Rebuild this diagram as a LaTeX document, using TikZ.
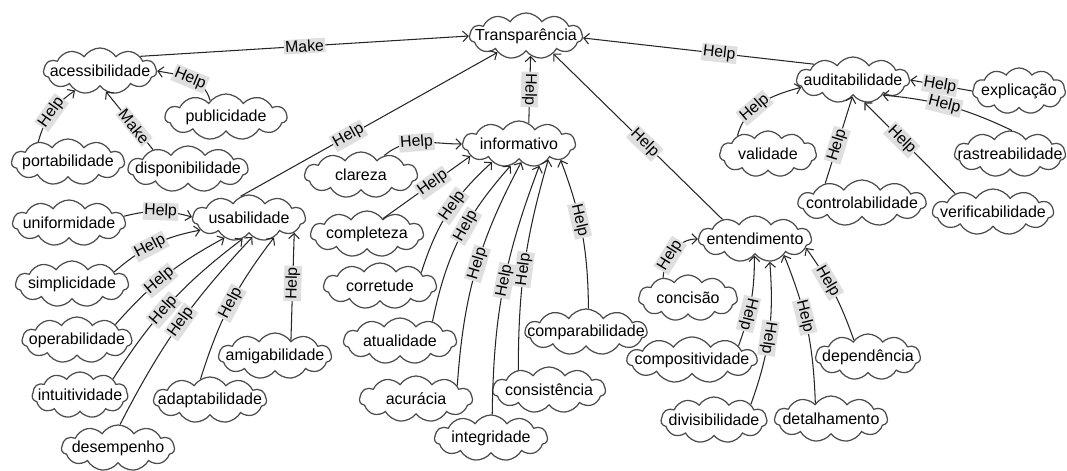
\documentclass[tikz,border=0pt]{standalone}
\usepackage{fontspec}
\setmainfont{Liberation Sans}
\usetikzlibrary{shapes.symbols,arrows.meta}

\tikzset{
  concept/.style={cloud, cloud puffs=11, cloud puff arc=115, cloud ignores aspect,
    draw=black!70, line width=0.7pt, fill=white, inner sep=0pt,
    minimum width=2.26cm, minimum height=0.92cm,
    font=\fontsize{9.1}{11}\selectfont,
    execute at begin node={\hbox to 0pt\bgroup\hss},
    execute at end node={\hss\egroup}},
  link/.style={draw=black!85, line width=0.6pt, -{Straight Barb[length=3pt,width=6pt]}},
  lab/.style={fill=gray!25, inner sep=0.8pt, sloped, font=\fontsize{9}{10}\selectfont},
}

\begin{document}
\begin{tikzpicture}
\useasboundingbox (0,0) rectangle (21.34,9.42);

\node[concept] (transp) at (10.52,8.70) {Transparência};

\node[concept] (acess) at (2.00,8.00) {acessibilidade};
\node[concept, minimum width=2.44cm] (public) at (4.52,7.08) {publicidade};
\node[concept] (portab) at (1.36,6.18) {portabilidade};
\node[concept, minimum width=2.4cm] (dispon) at (3.76,6.04) {disponibilidade};

\node[concept] (usab) at (4.98,5.06) {usabilidade};
\node[concept] (uniform) at (1.38,4.96) {uniformidade};
\node[concept] (simplic) at (1.44,3.74) {simplicidade};
\node[concept, minimum width=2.2cm] (operab) at (1.54,2.62) {operabilidade};
\node[concept, minimum width=1.92cm] (intuit) at (1.60,1.52) {intuitividade};
\node[concept] (desemp) at (2.36,0.46) {desempenho};
\node[concept] (adapt) at (4.20,1.42) {adaptabilidade};
\node[concept] (amigab) at (5.50,2.30) {amigabilidade};

\node[concept] (inform) at (10.38,6.54) {informativo};
\node[concept] (clareza) at (7.22,5.92) {clareza};
\node[concept] (complet) at (7.34,4.74) {completeza};
\node[concept] (corret) at (7.60,3.70) {corretude};
\node[concept] (atual) at (8.00,2.60) {atualidade};
\node[concept] (acurac) at (8.32,1.44) {acurácia};
\node[concept] (integr) at (9.82,0.66) {integridade};
\node[concept] (consist) at (10.98,1.62) {consistência};
\node[concept, minimum width=2.44cm] (compar) at (11.72,2.78) {comparabilidade};

\node[concept] (entend) at (15.10,4.64) {entendimento};
\node[concept, minimum width=1.98cm] (concis) at (13.76,3.46) {concisão};
\node[concept, minimum width=2.6cm] (compos) at (13.84,2.22) {compositividade};
\node[concept, minimum width=2.12cm] (divis) at (14.28,1.02) {divisibilidade};
\node[concept] (detalh) at (16.62,1.04) {detalhamento};
\node[concept, minimum width=2.1cm] (depend) at (17.36,2.28) {dependência};

\node[concept] (audit) at (17.06,7.82) {auditabilidade};
\node[concept, minimum width=1.86cm] (explic) at (20.38,7.60) {explicação};
\node[concept, minimum width=1.94cm] (valid) at (15.36,6.34) {validade};
\node[concept, minimum width=2.22cm] (rastre) at (20.20,6.34) {rastreabilidade};
\node[concept, minimum width=2.56cm] (control) at (17.24,5.36) {controlabilidade};
\node[concept, minimum width=2.42cm] (verific) at (19.86,5.18) {verificabilidade};

\draw[link] (acess.20) -- node[lab]{Make} (transp.west);
\draw[link] (usab.111) -- node[lab, pos=0.42]{Help} (transp.210);
\draw[link] (inform.65) -- node[lab, rotate=180]{Help} (transp.283);
\draw[link] (entend.149) -- node[lab, pos=0.46]{Help} (transp.327);
\draw[link] (audit.158) -- node[lab, pos=0.41]{Help} (transp.358);

\draw[link] (public.134) to[out=105,in=-10] node[lab]{Help} (acess.east);
\draw[link] (portab.146) to[bend left=20] node[lab]{Help} (acess.218);
\draw[link] (dispon.151) -- node[lab, pos=0.4]{Make} (acess.286);

\draw[link] (uniform.7) to[bend left=15] node[lab, pos=0.54]{Help} (usab.179);
\draw[link] (simplic.16) to[bend left=15] node[lab, pos=0.45]{Help} (usab.194);
\draw[link] (operab.22) to[bend left=10] node[lab, pos=0.44]{Help} (usab.219);
\draw[link] (intuit.26) to[bend left=10] node[lab, pos=0.44]{Help} (usab.253);
\draw[link] (desemp.85) to[bend left=8] node[lab, pos=0.52]{Help} (usab.280);
\draw[link] (adapt.114) to[bend left=10] node[lab, pos=0.51]{Help} (usab.322);
\draw[link] (amigab.44) -- node[lab, pos=0.53]{Help} (usab.342);

\draw[link] (clareza.40) to[out=40,in=180] node[lab, pos=0.45]{Help} (inform.west);
\draw[link] (complet.44) -- node[lab, pos=0.57]{Help} (inform.194);
\draw[link] (corret.18) to[bend left=15] node[lab, pos=0.56]{Help} (inform.214);
\draw[link] (atual.31) to[bend left=15] node[lab, pos=0.58]{Help} (inform.249);
\draw[link] (acurac.18) to[bend left=12] node[lab, pos=0.53]{Help} (inform.277);
\draw[link] (integr.87) to[bend left=10] node[lab, pos=0.53]{Help} (inform.313);
\draw[link] (consist.147) to[bend left=8] node[lab, pos=0.47]{Help} (inform.332);
\draw[link] (compar.84) to[bend right=10] node[lab, pos=0.59]{Help} (inform.339);

\draw[link] (concis.141) to[out=85,in=180] node[lab, pos=0.4]{Help} (entend.west);
\draw[link] (compos.17) to[bend right=10] node[lab, pos=0.35, rotate=180]{Help} (entend.268);
\draw[link] (divis.23) to[bend right=12] node[lab, pos=0.47, rotate=180]{Help} (entend.303);
\draw[link] (detalh.135) to[bend right=10] node[lab, pos=0.58]{Help} (entend.331);
\draw[link] (depend.130) to[bend right=8] node[lab, pos=0.63]{Help} (entend.350);

\draw[link] (explic.west) -- node[lab, pos=0.52]{Help} (audit.east);
\draw[link] (valid.149) to[out=75,in=195] node[lab, pos=0.4]{Help} (audit.188);
\draw[link] (rastre.85) to[bend right=10] node[lab, pos=0.54]{Help} (audit.333);
\draw[link] (control.152) -- node[lab, pos=0.44]{Help} (audit.268);
\draw[link] (verific.154) -- node[lab, pos=0.59]{Help} (audit.297);
\end{tikzpicture}
\end{document}
